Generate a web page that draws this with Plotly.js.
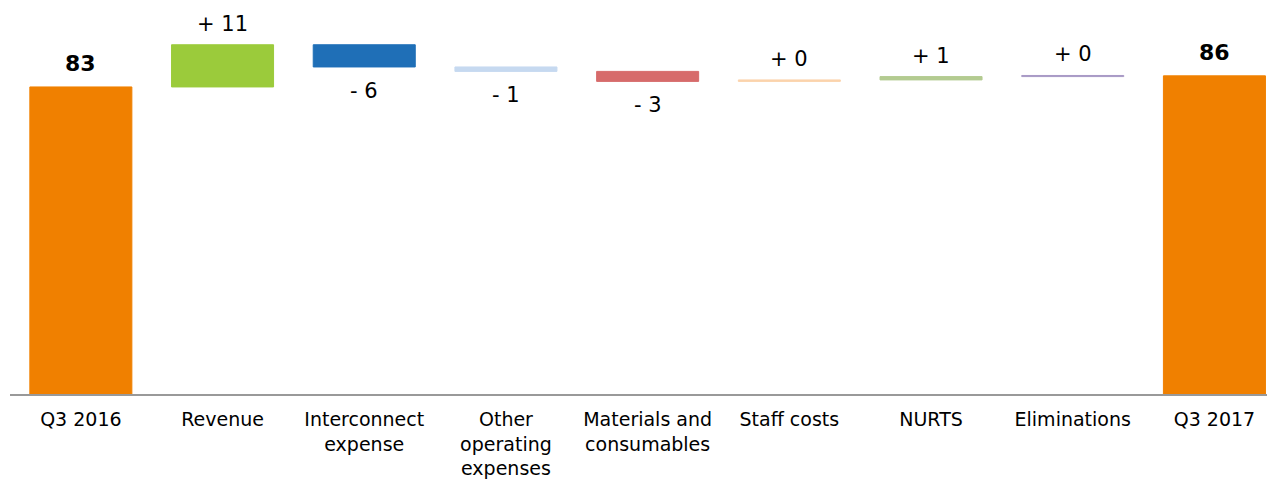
<!DOCTYPE html>
<html>
<head>
<meta charset="utf-8">
<script src="https://cdn.plot.ly/plotly-3.0.1.min.js"></script>
<style>
  html, body { margin: 0; padding: 0; background: #ffffff; }
  #chart { width: 1267px; height: 482px; }
</style>
</head>
<body>
<div id="chart"></div>
<script>
// ---- data ----
const categories = ["Q3 2016", "Revenue", "Interconnect expense", "Other operating expenses",
  "Materials and consumables", "Staff costs", "NURTS", "Eliminations", "Q3 2017"];
const tickLabels = ["Q3 2016", "Revenue", "Interconnect<br>expense", "Other<br>operating<br>expenses",
  "Materials and<br>consumables", "Staff costs", "NURTS", "Eliminations", "Q3 2017"];
const startValue = 83;
const changes = [11.4, -6.0, -1.2, -2.7, 0.4, 0.9, 0.3];   // Revenue ... Eliminations
const endValue = 86;
const barColors = ["#F08000", "#9BCB3B", "#1F6FB7", "#C6D9F0", "#D76B6B",
  "#FBD3AC", "#B4CB91", "#A899C5", "#F08000"];

// ---- build floating bars ----
const bases = [0];
const lengths = [startValue];
let level = startValue;
changes.forEach(c => {
  bases.push(c >= 0 ? level : level + c);
  lengths.push(Math.abs(c));
  level += c;
});
bases.push(0);
lengths.push(endValue);

const font = "DejaVu Sans, Verdana, sans-serif";
const annotations = [];
// totals
[[0, startValue], [categories.length - 1, endValue]].forEach(([i, v]) => {
  annotations.push({
    x: categories[i], y: v, xref: "x", yref: "y", text: "<b>" + Math.round(v) + "</b>",
    showarrow: false, yanchor: "bottom", yshift: 9,
    font: { family: font, size: 22, color: "#000000" }
  });
});
// deltas
changes.forEach((c, k) => {
  const i = k + 1;
  const r = Math.round(Math.abs(c));
  const pos = c >= 0;
  annotations.push({
    x: categories[i],
    y: pos ? bases[i] + lengths[i] : bases[i],
    xref: "x", yref: "y",
    text: (pos ? "+ " : "- ") + r,
    showarrow: false,
    yanchor: pos ? "bottom" : "top",
    yshift: pos ? 7 : -10,
    font: { family: font, size: 21, color: "#000000" }
  });
});

const trace = {
  type: "bar",
  x: categories,
  y: lengths,
  base: bases,
  width: 0.72,
  marker: { color: barColors, line: { color: barColors, width: 1 } },
  hoverinfo: "skip"
};

const layout = {
  width: 1267, height: 482,
  margin: { l: 10, r: 0, t: 0, b: 88 },
  paper_bgcolor: "#ffffff", plot_bgcolor: "#ffffff",
  showlegend: false,
  font: { family: font, color: "#000000" },
  xaxis: {
    type: "category",
    range: [-0.5, 8.371],
    tickmode: "array",
    tickvals: categories,
    ticktext: tickLabels,
    tickfont: { family: font, size: 19, color: "#000000" },
    ticks: "",
    ticklabelstandoff: 7,
    showline: true, linecolor: "#999999", linewidth: 2,
    showgrid: false, zeroline: false,
    fixedrange: true
  },
  yaxis: {
    range: [0, 106.5],
    visible: false,
    showgrid: false, zeroline: false,
    fixedrange: true
  },
  annotations: annotations
};

Plotly.newPlot("chart", [trace], layout, { displayModeBar: false, staticPlot: true });
</script>
</body>
</html>
